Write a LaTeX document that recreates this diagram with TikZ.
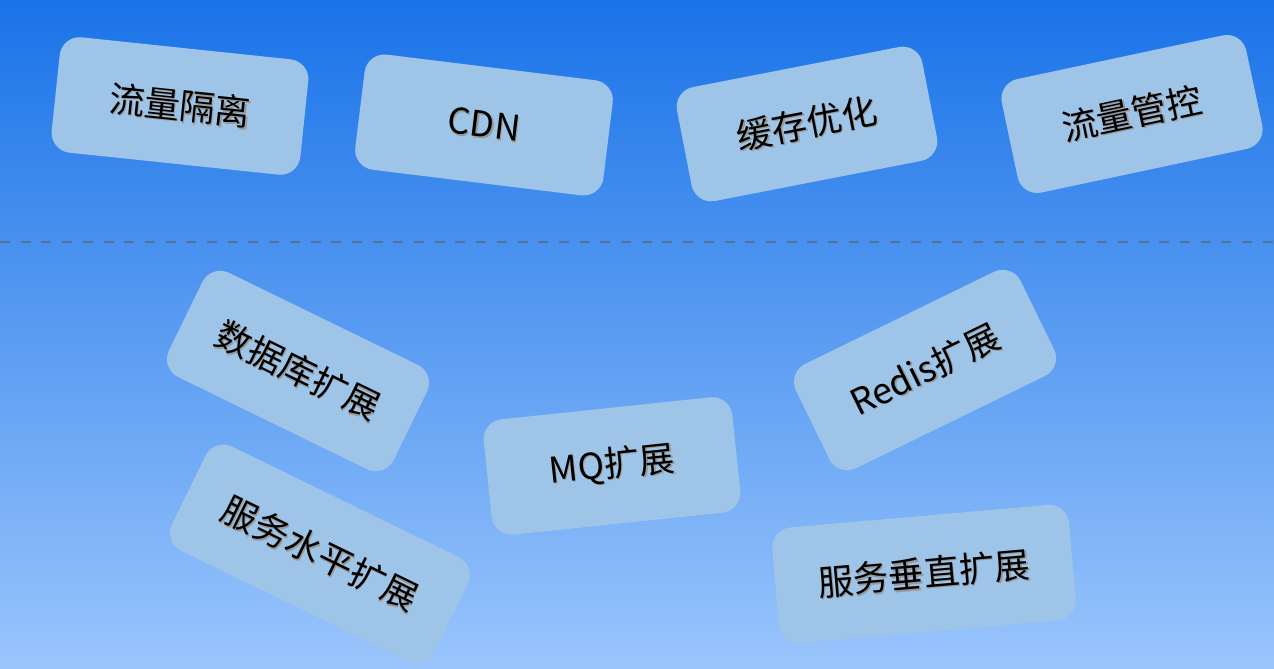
\documentclass[tikz,border=0pt]{standalone}
\usepackage{fontspec}
\newfontfamily\cjk{Noto Sans CJK SC}
\usepackage{tikz}
\usetikzlibrary{positioning}

\definecolor{skytop}{HTML}{1A73E8}
\definecolor{skybottom}{HTML}{9AC5FC}
\definecolor{cardblue}{HTML}{9EC4E8}
\definecolor{dashgray}{HTML}{53719F}

% text with a soft drop shadow
\newcommand{\shtext}[1]{\leavevmode\rlap{\kern1.3pt\raisebox{-1.3pt}{\color{black!40}#1}}#1}

\tikzset{
    card/.style={fill=cardblue, rounded corners=20pt, minimum width=250pt,
        minimum height=116pt, inner sep=0pt, text=black,
        font=\cjk\fontsize{35.5}{40}\selectfont}
}

\begin{document}
\begin{tikzpicture}[x=1pt, y=-1pt]
    % Background
    \shade[top color=skytop, bottom color=skybottom] (0,0) rectangle (1274,669);
    \useasboundingbox (0,0) rectangle (1274,669);

    % Divider
    \coordinate (divL) at (0,242);
    \coordinate (divR) at (1274,242);
    \draw[dashgray, line width=2.3pt, dash pattern=on 10pt off 10.7pt] (divL) -- (divR);

    % Upper row
    \node[card, rotate=-6] (isolate) at (180,106) {\shtext{流量隔离}};
    \node[card, rotate=-7] (cdn) at (484,125) {\shtext{CDN}};
    \node[card, rotate=11] (cache) at (807,124) {\shtext{缓存优化}};
    \node[card, rotate=12] (control) at (1132,114) {\shtext{流量管控}};

    % Lower part
    \node[card, rotate=-26] (database) at (298,371) {\shtext{数据库扩展}};
    \node[card, rotate=26] (redis) at (925,370) {\shtext{Redis扩展}};
    \node[card, rotate=6] (mq) at (612,466) {\shtext{MQ扩展}};
    \node[card, rotate=-26, minimum width=292pt] (horizontal) at (320,554) {\shtext{服务水平扩展}};
    \node[card, rotate=5, minimum width=298pt] (vertical) at (924,574) {\shtext{服务垂直扩展}};
\end{tikzpicture}
\end{document}
